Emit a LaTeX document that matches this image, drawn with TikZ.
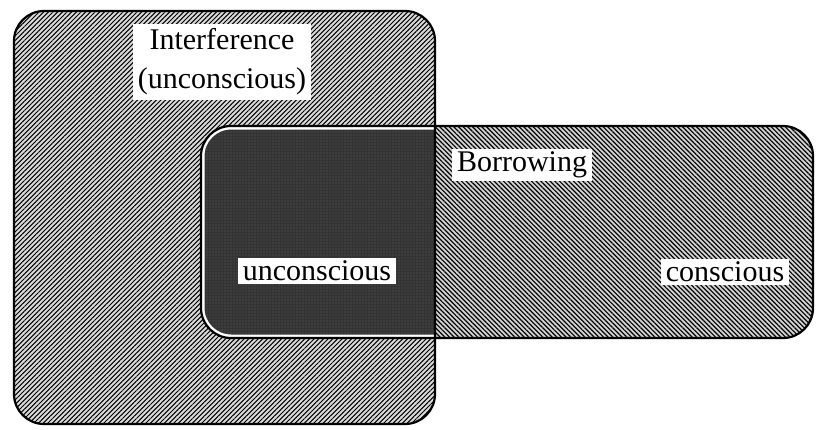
\documentclass[tikz,border=0pt]{standalone}
\usepackage{fontspec}
\setmainfont{Liberation Serif}
\usetikzlibrary{patterns.meta}
\begin{document}
\begin{tikzpicture}[x=1pt,y=-1pt,
  lfill/.style={fill=gray!30, postaction={pattern={Lines[angle=45,distance=3.3pt,line width=1pt]}, pattern color=black}},
  rfill/.style={fill=gray!35, postaction={pattern={Lines[angle=-45,distance=3.3pt,line width=1.2pt]}, pattern color=black}},
  ofill/.style={fill=black!80, postaction={pattern={Dots[distance=3pt,radius=0.45pt]}, pattern color=white!70!black}},
  border/.style={draw=black, line width=2.2pt},
  label/.style={fill=white, inner xsep=5pt, inner ysep=3pt, font=\fontsize{30}{37}\selectfont, align=center}
]
\useasboundingbox (0,0) rectangle (819,429);
% left box
\path[lfill, rounded corners=30] (14,11) rectangle (435,424);
% right box
\path[rfill, rounded corners=30] (201,126) rectangle (813,338);
% overlap
\begin{scope}
  \clip[rounded corners=30] (14,11) rectangle (435,424);
  \path[ofill, rounded corners=30] (201,126) rectangle (813,338);
  \clip[rounded corners=30] (201,126) rectangle (813,338);
  \draw[white, line width=7pt, rounded corners=30] (201,126) rectangle (813,338);
\end{scope}
\draw[border, rounded corners=30] (14,11) rectangle (435,424);
\draw[border, rounded corners=30] (201,126) rectangle (813,338);
% labels
\node[label, inner ysep=5pt, font=\fontsize{30}{39}\selectfont] (interf) at (222,62) {Interference\\(unconscious)};
\node[label] (borrow) at (522,165) {Borrowing};
\node[label] (uncon) at (317,271) {unconscious};
\node[label] (con) at (725,272) {conscious};
\end{tikzpicture}
\end{document}
